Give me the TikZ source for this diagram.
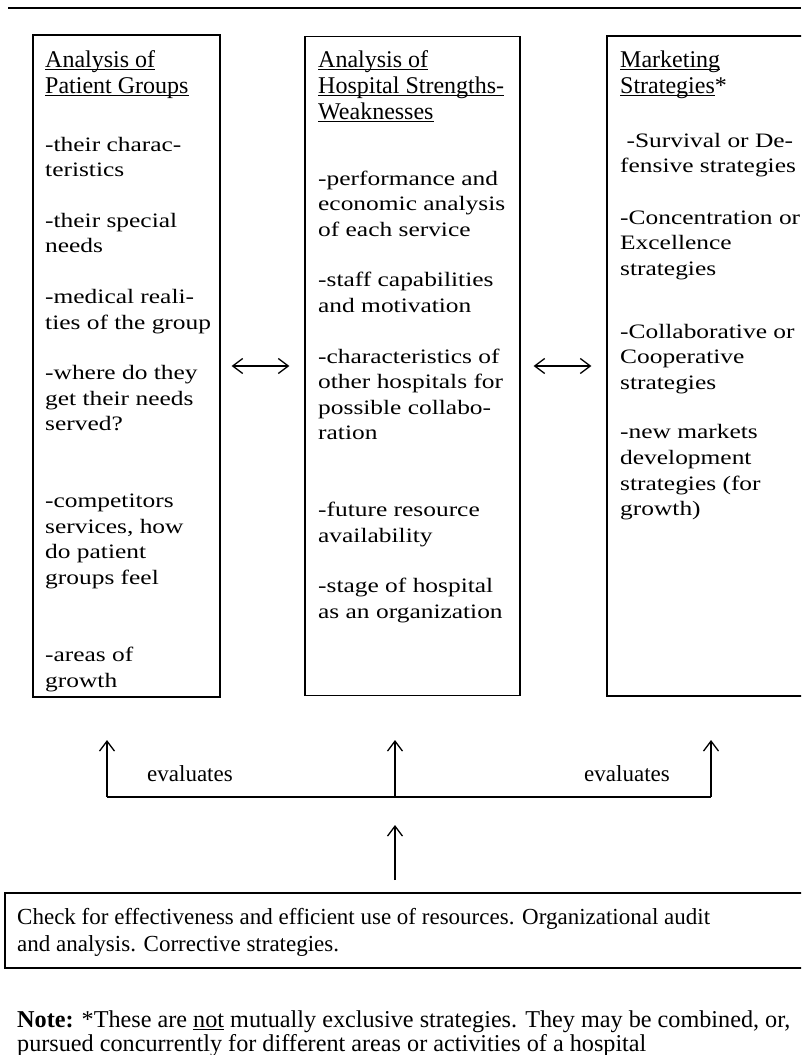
\documentclass[tikz,border=0pt]{standalone}
\usepackage{fontspec}
\setmainfont{Liberation Serif}
\newfontfamily\bodyfont[FakeStretch=1.24]{Liberation Serif}
\usetikzlibrary{arrows.meta}

% underline at a fixed depth
\newsavebox\hulbox
\newcommand\hul[1]{\sbox\hulbox{#1}\rlap{\rule[-3pt]{\wd\hulbox}{1pt}}\usebox\hulbox}
% lines of text, baseline on the first one
\newcommand\txtlines[1]{\begin{tabular}[t]{@{}l@{}}#1\end{tabular}}

\tikzset{
    panel/.style={draw, line width=1.3pt, inner sep=0pt},
    headtxt/.style={anchor=base west, inner sep=0pt, font=\fontsize{24}{26}\selectfont},
    bodytxt/.style={anchor=base west, inner sep=0pt, font=\bodyfont\fontsize{20.5}{25.6}\selectfont},
    plaintxt/.style={anchor=base west, inner sep=0pt, font=\fontsize{23}{27}\selectfont},
    arr/.style={-{Straight Barb[length=10pt, width=15pt]}, line width=1.3pt},
    dblarr/.style={{Straight Barb[length=10pt, width=15pt]}-{Straight Barb[length=10pt, width=15pt]}, line width=1.3pt},
}

\begin{document}
\begin{tikzpicture}[x=1pt, y=-1pt]
    \useasboundingbox (0,0) rectangle (801,1055);
    \clip (0,0) rectangle (801,1055);

    % rule at the top
    \draw[line width=1.2pt] (8,8) -- (801,8);

    % boxes
    \node[panel, minimum width=187pt, minimum height=662pt] at (126.5,366) (pg) {};
    \node[panel, minimum width=215pt, minimum height=659pt] at (412.5,366) (hs) {};
    \node[panel, minimum width=223pt, minimum height=660pt] at (718.5,366) (ms) {};
    \node[panel, minimum width=810pt, minimum height=75pt] at (410,930.5) (ck) {};

    % headings
    \node[headtxt] at (45,67) (pgh) {\txtlines{\hul{Analysis of}\\\hul{Patient Groups}}};
    \node[headtxt] at (318,67) (hsh) {\txtlines{\hul{Analysis of}\\\hul{Hospital Strengths-}\\\hul{Weaknesses}}};
    \node[headtxt] at (620,67) (msh) {\txtlines{\hul{Marketing}\\\hul{Strategies}*}};

    % box texts
    \node[bodytxt] at (45,151) (pgb) {\txtlines{-their charac-\\teristics\\[25pt]
        -their special\\needs\\[25pt]
        -medical reali-\\ties of the group\\[25pt]
        -where do they\\get their needs\\served?\\[51pt]
        -competitors\\services, how\\do patient\\groups feel\\[52pt]
        -areas of\\growth}};
    \node[bodytxt] at (318,185) (hsb) {\txtlines{-performance and\\economic analysis\\of each service\\[25pt]
        -staff capabilities\\and motivation\\[25pt]
        -characteristics of\\other hospitals for\\possible collabo-\\ration\\[51pt]
        -future resource\\availability\\[25pt]
        -stage of hospital\\as an organization}};
    \node[bodytxt] at (620,147) (msb) {\txtlines{\ -Survival or De-\\fensive strategies\\[26pt]
        -Concentration or\\Excellence\\strategies\\[37pt]
        -Collaborative or\\Cooperative\\strategies\\[24pt]
        -new markets\\development\\strategies (for\\growth)}};

    % double arrows between boxes
    \draw[dblarr, shorten <=11pt, shorten >=15pt] (pg.east) -- (hs.west);
    \draw[dblarr, shorten <=13pt, shorten >=15pt] (hs.east) -- (ms.west);

    % evaluates
    \coordinate (jl) at (107,797);
    \coordinate (jm) at (395,797);
    \coordinate (jr) at (711,797);
    \coordinate (tl) at (107,740);
    \coordinate (tm) at (395,740);
    \coordinate (tr) at (711,740);
    \draw[line width=1.3pt] (jl) -- (jr);
    \draw[arr] (jl) -- (tl);
    \draw[arr] (jm) -- (tm);
    \draw[arr] (jr) -- (tr);
    \node[plaintxt, anchor=base] at (190,781) (evl) {evaluates};
    \node[plaintxt, anchor=base] at (627,781) (evr) {evaluates};

    % from the check box
    \coordinate (cb) at (395,880);
    \coordinate (ct) at (395,825);
    \draw[arr] (cb) -- (ct);
    \node[plaintxt] at (17,924) (ckt) {\txtlines{Check for effectiveness and efficient use of resources. Organizational audit\\and analysis. Corrective strategies.}};

    % note
    \node[plaintxt, font=\fontsize{24.2}{24}\selectfont] at (17,1027) (note) {\txtlines{\textbf{Note:} *These are \hul{not} mutually exclusive strategies. They may be combined, or,\\pursued concurrently for different areas or activities of a hospital}};

\end{tikzpicture}
\end{document}
